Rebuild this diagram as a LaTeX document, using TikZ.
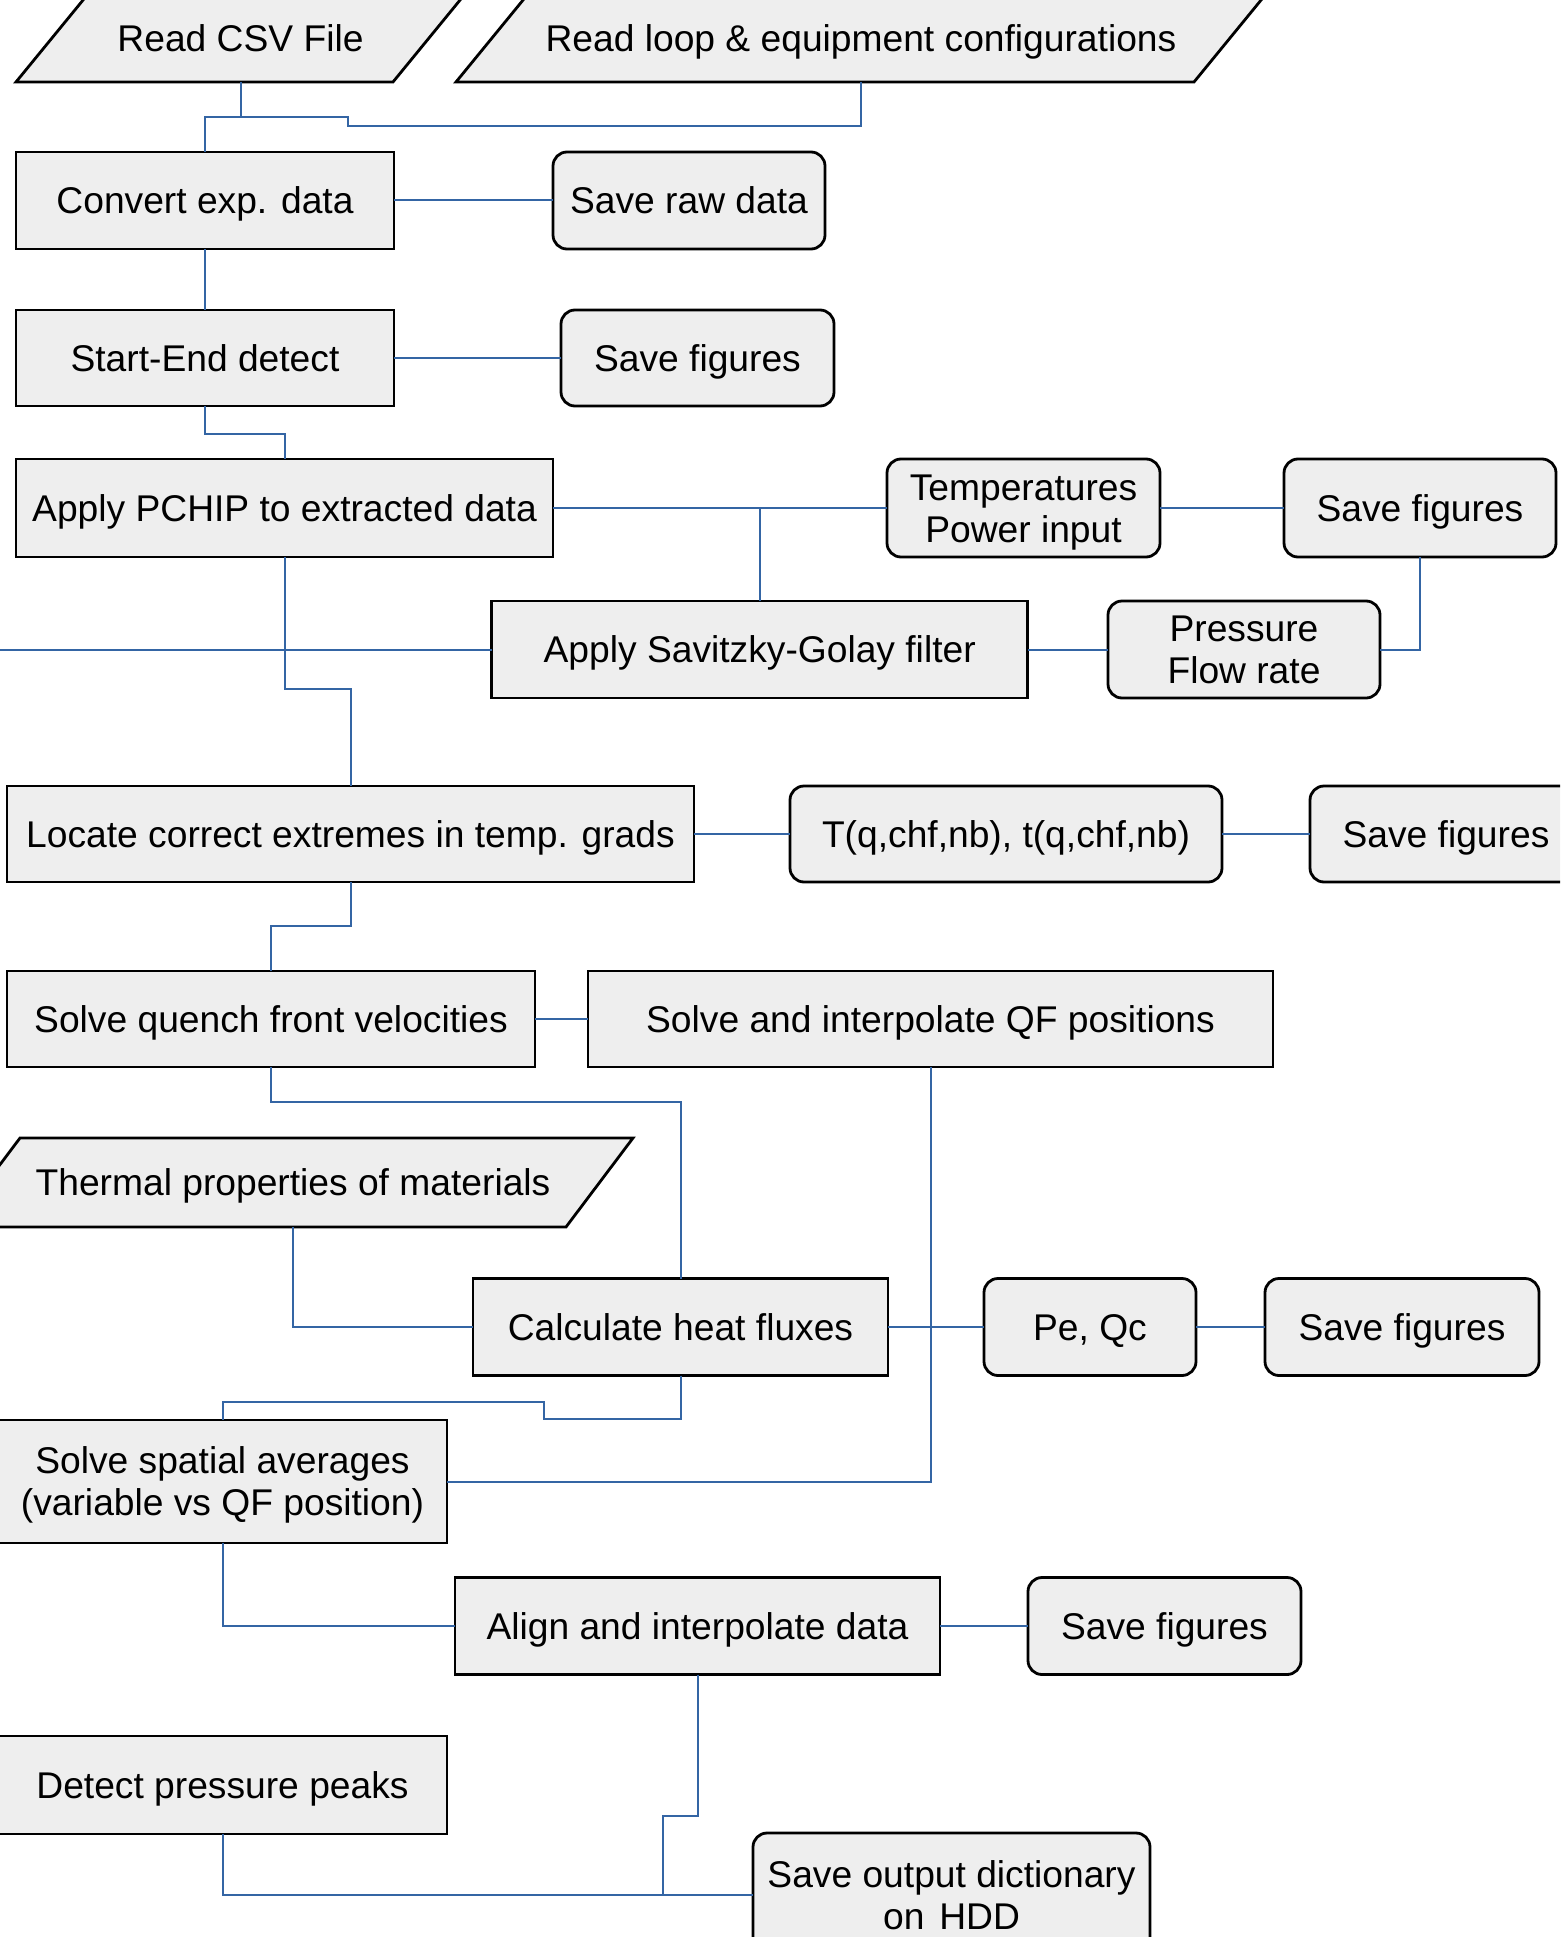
\documentclass[tikz,border=0pt]{standalone}
\usepackage{fontspec}
\setmainfont{Liberation Sans}
\definecolor{connblue}{HTML}{3465A4}
\definecolor{boxfill}{HTML}{EEEEEE}
\tikzset{
  base/.style={font=\fontsize{18.6}{21}\selectfont, align=center, inner sep=0pt, outer sep=0pt, text height=13.4pt, text depth=0pt},
  twoline/.style={text height=34.4pt, text depth=0pt},
  procbox/.style={base, rectangle, draw=black, fill=boxfill, line width=1.4pt},
  savebox/.style={base, rectangle, rounded corners=7pt, draw=black, fill=boxfill, line width=1.4pt},
  iobox/.style={fill=boxfill, draw=black, line width=1.4pt, line join=miter},
  iotext/.style={base, rectangle},
  conn/.style={draw=connblue, line width=1pt}
}
\begin{document}
\begin{tikzpicture}[x=0.5pt,y=-0.5pt]
\clip (0,0) rectangle (1560,1937);
\fill[white] (0,0) rectangle (1560,1937);

% input parallelograms
\path[iobox] (16,82) -- (393,82) -- (465,-6) -- (88,-6) -- cycle;
\node[iotext, minimum width=150pt, minimum height=44pt] (csv) at (240.5,38) {Read CSV File};
\path[iobox] (456,82) -- (1194,82) -- (1266,-6) -- (528,-6) -- cycle;
\node[iotext, minimum width=330pt, minimum height=44pt] (loop) at (861,38) {Read loop \& equipment configurations};
\path[iobox] (-47,1227) -- (566,1227) -- (633,1138) -- (20,1138) -- cycle;
\node[iotext, minimum width=260pt, minimum height=44.5pt] (thermal) at (293,1182.5) {Thermal properties of materials};

% process boxes
\node[procbox, minimum width=189pt, minimum height=48.5pt] (convert) at (205,200.5) {Convert exp. data};
\node[procbox, minimum width=189pt, minimum height=48pt] (startend) at (205,358) {Start-End detect};
\node[procbox, minimum width=268.5pt, minimum height=49pt] (pchip) at (284.5,508) {Apply PCHIP to extracted data};
\node[procbox, minimum width=268pt, minimum height=48.5pt] (savgol) at (759.7,649.5) {Apply Savitzky-Golay filter};
\node[procbox, minimum width=343.5pt, minimum height=48pt] (locate) at (350.5,834) {Locate correct extremes in temp. grads};
\node[procbox, minimum width=264pt, minimum height=48pt] (solvevel) at (271,1019) {Solve quench front velocities};
\node[procbox, minimum width=342.5pt, minimum height=48pt] (solveqf) at (930.5,1019) {Solve and interpolate QF positions};
\node[procbox, minimum width=207.5pt, minimum height=48.5pt] (calc) at (680.5,1327) {Calculate heat fluxes};
\node[procbox, twoline, minimum width=224.5pt, minimum height=61.5pt] (spatial) at (222.5,1481.5) {Solve spatial averages\\(variable vs QF position)};
\node[procbox, minimum width=242.5pt, minimum height=48.5pt] (align) at (697.5,1626) {Align and interpolate data};
\node[procbox, minimum width=224.5pt, minimum height=49pt] (detect) at (222.5,1785) {Detect pressure peaks};

% rounded boxes
\node[savebox, minimum width=136pt, minimum height=48.5pt] (saveraw) at (689,200.5) {Save raw data};
\node[savebox, minimum width=136.5pt, minimum height=48pt] (savefig1) at (697.5,358) {Save figures};
\node[savebox, twoline, minimum width=136.5pt, minimum height=49pt] (temps) at (1023.5,508) {Temperatures\\Power input};
\node[savebox, minimum width=136pt, minimum height=49pt] (savefig2) at (1420,508) {Save figures};
\node[savebox, twoline, minimum width=136pt, minimum height=48.5pt] (pressure) at (1244,649.5) {Pressure\\Flow rate};
\node[savebox, minimum width=216pt, minimum height=48pt] (tq) at (1006,834) {T(q,chf,nb), t(q,chf,nb)};
\node[savebox, minimum width=136pt, minimum height=48pt] (savefig3) at (1446,834) {Save figures};
\node[savebox, minimum width=106pt, minimum height=48.5pt] (peqc) at (1090,1327) {Pe, Qc};
\node[savebox, minimum width=137pt, minimum height=48.5pt] (savefig4) at (1402,1327) {Save figures};
\node[savebox, minimum width=136.5pt, minimum height=48.5pt] (savefig5) at (1164.5,1626) {Save figures};
\node[savebox, twoline, minimum width=198.5pt, minimum height=62pt] (saveout) at (951.5,1895) {Save output dictionary\\on\hspace{0.4em}HDD};

\coordinate (leftend) at (-5,649.5);

% connectors
\draw[conn] (csv.south) -- ++(0,35);
\draw[conn] (loop.south) -- ++(0,44) -| (348,117) -| (convert.north);
\draw[conn] (convert.east) -- (saveraw.west);
\draw[conn] (convert.south) -- (startend.north);
\draw[conn] (startend.east) -- (savefig1.west);
\draw[conn] (startend.south) -- ++(0,28) -| (pchip.north);
\draw[conn] (pchip.east) -- (temps.west);
\draw[conn] (savgol.north) -- (savgol.north |- pchip.east);
\draw[conn] (temps.east) -- (savefig2.west);
\draw[conn] (savgol.east) -- (pressure.west);
\draw[conn] (pressure.east) -| (savefig2.south);
\draw[conn] (leftend) -- (savgol.west);
\draw[conn] (pchip.south) -- ++(0,132) -| (locate.north);
\draw[conn] (locate.east) -- (tq.west);
\draw[conn] (tq.east) -- (savefig3.west);
\draw[conn] (locate.south) -- ++(0,44) -| (solvevel.north);
\draw[conn] (solvevel.east) -- (solveqf.west);
\draw[conn] (solvevel.south) -- ++(0,35) -| (calc.north);
\draw[conn] (thermal.south) |- (calc.west);
\draw[conn] (calc.east) -- (peqc.west);
\draw[conn] (peqc.east) -- (savefig4.west);
\draw[conn] (solveqf.south) |- (spatial.east);
\draw[conn] (calc.south) -- ++(0,43) -| (544,1402) -| (spatial.north);
\draw[conn] (spatial.south) |- (align.west);
\draw[conn] (align.east) -- (savefig5.west);
\draw[conn] (align.south) -- ++(0,141) -| (663,1895);
\draw[conn] (detect.south) |- (saveout.west);
\end{tikzpicture}
\end{document}
